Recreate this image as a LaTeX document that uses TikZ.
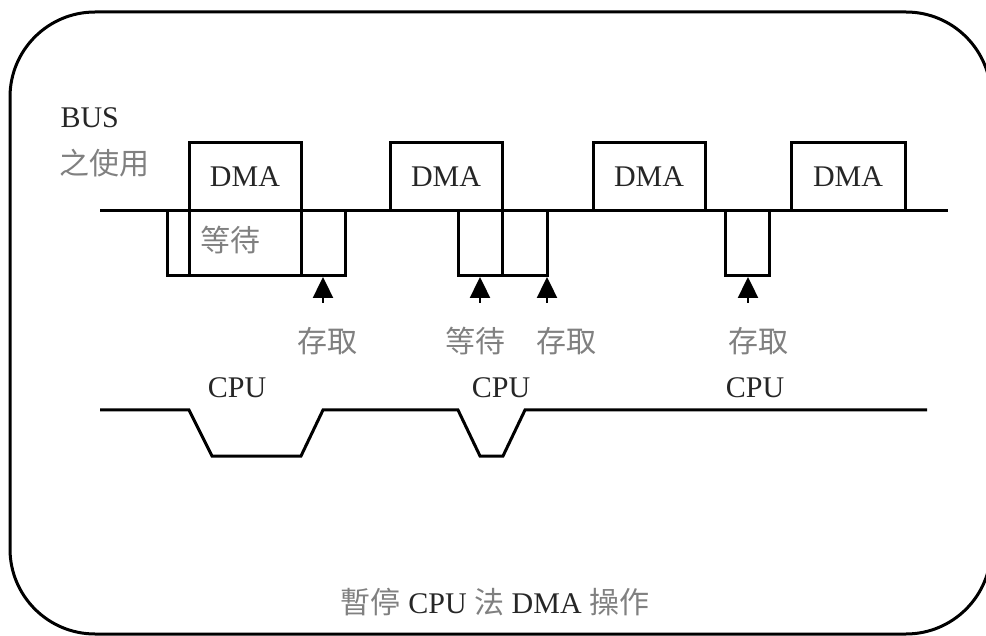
\documentclass[tikz,border=0pt]{standalone}
\usepackage{fontspec}
\setmainfont{Liberation Serif}
\newfontfamily\cjk{Noto Sans CJK TC}
\usetikzlibrary{arrows.meta}
\begin{document}
\begin{tikzpicture}[x=1pt,y=-1pt, line width=3pt,
  en/.style={font=\fontsize{30}{32}\selectfont, text=black!85, inner sep=0pt},
  zh/.style={font=\cjk\fontsize{30}{32}\selectfont, text=black!50, inner sep=0pt},
  uparrow/.style={-{Triangle[length=21pt,width=20pt]}, line width=2.4pt}]
\useasboundingbox (0,0) rectangle (986,636);
% frame
\draw[rounded corners=85pt] (10,12) rectangle (991,634);
% bus line
\coordinate (busL) at (100,211);
\coordinate (busR) at (948,211);
\draw (busL) -- (busR);
% DMA boxes
\draw (189,211) -- (189,143) -- (301,143) -- (301,211);
\draw (390,211) -- (390,143) -- (502,143) -- (502,211);
\draw (593,211) -- (593,143) -- (705,143) -- (705,211);
\draw (791,211) -- (791,143) -- (905,143) -- (905,211);
\node[en] (dma1) at (245,177) {DMA};
\node[en] (dma2) at (446,177) {DMA};
\node[en] (dma3) at (649,177) {DMA};
\node[en] (dma4) at (848,177) {DMA};
% CPU boxes below bus
\draw (167,211) -- (167,276) -- (345,276) -- (345,211);
\draw (189,211) -- (189,276);
\draw (301,211) -- (301,276);
\draw (458,211) -- (458,276) -- (547,276) -- (547,211);
\draw (502,211) -- (502,276);
\draw (725,211) -- (725,276) -- (769,276) -- (769,211);
\node[zh, anchor=west] (wait1) at (199,240) {等待};
% arrows
\coordinate (a1s) at (323,303); \coordinate (a1e) at (323,277);
\coordinate (a2s) at (480,303); \coordinate (a2e) at (480,277);
\coordinate (a3s) at (547,303); \coordinate (a3e) at (547,277);
\coordinate (a4s) at (748,303); \coordinate (a4e) at (748,277);
\draw[uparrow] (a1s) -- (a1e);
\draw[uparrow] (a2s) -- (a2e);
\draw[uparrow] (a3s) -- (a3e);
\draw[uparrow] (a4s) -- (a4e);
\node[zh] (acc1) at (327,341) {存取};
\node[zh] (wait2) at (475,341) {等待};
\node[zh] (acc2) at (566,341) {存取};
\node[zh] (acc3) at (758,341) {存取};
% labels
\node[en, anchor=west] (bus) at (59,118) {BUS};
\node[zh, anchor=west] (use) at (58,163) {之使用};
\node[en] (cpu1) at (237,388) {CPU};
\node[en] (cpu2) at (501,388) {CPU};
\node[en] (cpu3) at (755,388) {CPU};
% CPU line
\draw (100,410) -- (189,410) -- (212,456) -- (301,456) -- (323,410) -- (458,410)
  -- (480,456) -- (503,456) -- (525,410) -- (927,410);
% caption
\node[en] (cap) at (495,602) {\textcolor{black!50}{\cjk 暫停} CPU \textcolor{black!50}{\cjk 法} DMA \textcolor{black!50}{\cjk 操作}};
\end{tikzpicture}
\end{document}
